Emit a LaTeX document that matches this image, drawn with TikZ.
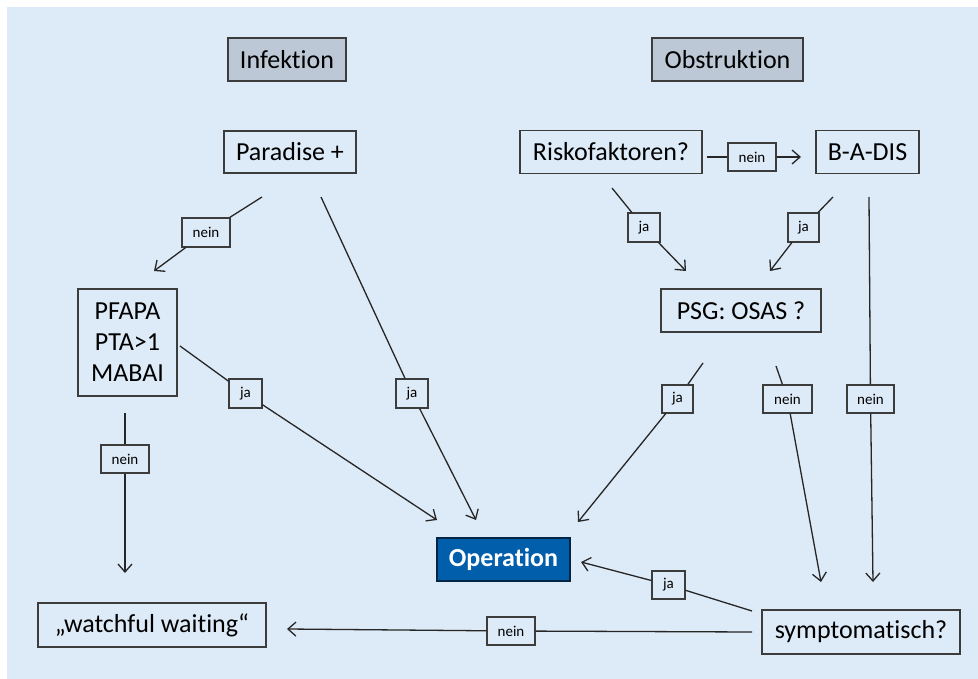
\documentclass[tikz,border=0pt]{standalone}
\usepackage{fontspec}
\setmainfont[Ligatures=NoCommon]{Carlito}
\usetikzlibrary{arrows.meta}
\definecolor{bg}{RGB}{221,234,247}
\definecolor{topfill}{RGB}{188,200,214}
\definecolor{opblue}{RGB}{0,94,170}
\definecolor{edge}{RGB}{60,60,60}
\tikzset{
 box/.style={draw=edge, line width=1.4pt, inner sep=0pt, font=\fontsize{26}{31}\selectfont, text=black, align=center},
 topbox/.style={box, fill=topfill},
 opbox/.style={box, fill=opblue, draw=black!60!opblue, text=white, font=\fontsize{26}{31}\selectfont\bfseries},
 lab/.style={draw=edge, line width=1.2pt, inner sep=0pt, font=\fontsize{15}{17}\selectfont, fill=bg},
 conn/.style={draw=black!85, line width=1.3pt},
 arr/.style={conn, -{Straight Barb[length=8pt,width=14pt]}},
}
\begin{document}
\begin{tikzpicture}[x=1pt,y=-1pt]
\useasboundingbox (0,0) rectangle (978,679);
\fill[white] (0,0) rectangle (978,679);
\fill[bg] (7,7) rectangle (978,679);
% main boxes
\node[topbox, minimum width=118pt, minimum height=43pt] (inf) at (287,59.5) {Infektion};
\node[topbox, minimum width=151pt, minimum height=43pt] (obs) at (727.5,59.5) {Obstruktion};
\node[box, minimum width=132pt, minimum height=42pt] (par) at (290,152) {Paradise +};
\node[box, minimum width=182pt, minimum height=43pt] (risk) at (611,152) {Riskofaktoren?};
\node[box, minimum width=103pt, minimum height=43pt] (bad) at (867.5,152) {B-A-DIS};
\node[box, minimum width=160pt, minimum height=43pt] (psg) at (741,310.5) {PSG: OSAS ?};
\node[box, minimum width=99pt, minimum height=107pt] (pf) at (127.5,342.5) {PFAPA\\PTA>1\\MABAI};
\node[opbox, minimum width=133pt, minimum height=43pt] (op) at (503.5,559.5) {Operation};
\node[box, minimum width=198pt, minimum height=44pt] (sym) at (861,632) {symptomatisch?};
\node[box, minimum width=228pt, minimum height=44pt] (ww) at (152,625) {„watchful waiting“};
% labels
\node[lab, minimum width=48pt, minimum height=28pt] (l1) at (752,157) {nein};
\node[lab, minimum width=32pt, minimum height=29pt] (l2) at (644,227.5) {ja};
\node[lab, minimum width=31pt, minimum height=29pt] (l3) at (803.5,227.5) {ja};
\node[lab, minimum width=48pt, minimum height=29pt] (l4) at (206,232.5) {nein};
\node[lab, minimum width=33pt, minimum height=29pt] (l5) at (245.5,393.5) {ja};
\node[lab, minimum width=32pt, minimum height=29pt] (l6) at (412,393.5) {ja};
\node[lab, minimum width=48pt, minimum height=28pt] (l7) at (125,459) {nein};
\node[lab, minimum width=31pt, minimum height=28pt] (l8) at (677.5,399) {ja};
\node[lab, minimum width=49pt, minimum height=28pt] (l9) at (787.5,399) {nein};
\node[lab, minimum width=47pt, minimum height=28pt] (l10) at (870.5,399) {nein};
\node[lab, minimum width=33pt, minimum height=28pt] (l11) at (668.5,585) {ja};
\node[lab, minimum width=48pt, minimum height=28pt] (l12) at (511,631) {nein};
% free ends
\coordinate (a1) at (707,157); \coordinate (b1) at (801,157);
\coordinate (a2) at (612,188); \coordinate (b2) at (686,271);
\coordinate (a3) at (833,197); \coordinate (b3) at (770,271);
\coordinate (a4) at (262,197); \coordinate (b4) at (154,271);
\coordinate (a5) at (180,346); \coordinate (b5) at (437,520);
\coordinate (a6) at (321,197); \coordinate (b6) at (476,520);
\coordinate (a7) at (125,413); \coordinate (b7) at (125,573);
\coordinate (a8) at (703,363); \coordinate (b8) at (578,522);
\coordinate (a9) at (776,366); \coordinate (b9) at (821,582);
\coordinate (a10) at (869,197); \coordinate (b10) at (873,582);
\coordinate (a11) at (752,611); \coordinate (b11) at (581,562);
\coordinate (a12) at (752,632); \coordinate (b12) at (287,629);
% connectors
\foreach \i in {1,...,12}{
  \draw[conn] (a\i) -- (l\i);
  \draw[arr] (l\i) -- (b\i);
}
\end{tikzpicture}
\end{document}
